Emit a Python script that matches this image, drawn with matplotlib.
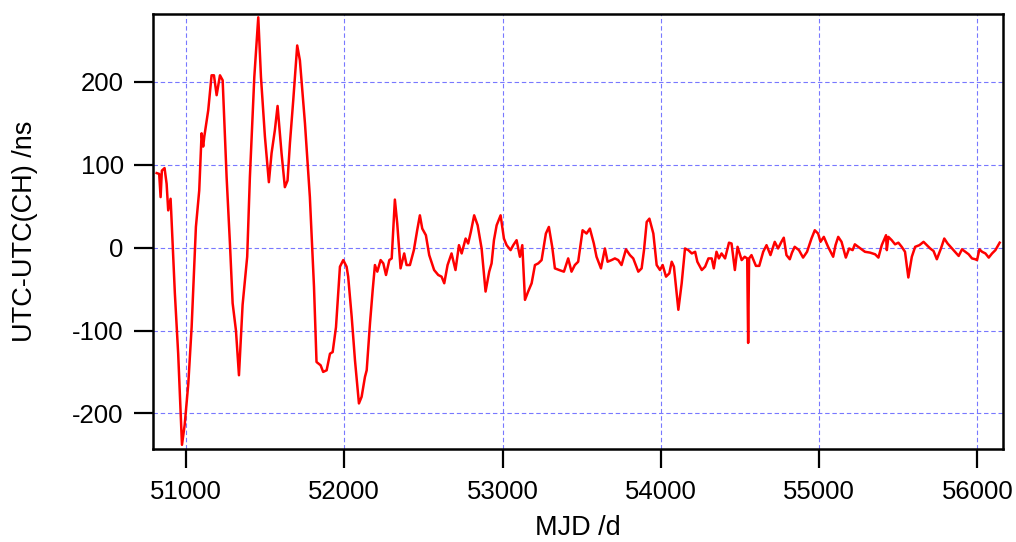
import matplotlib
matplotlib.use("Agg")
import matplotlib.pyplot as plt

plt.rcParams['font.family'] = ['Liberation Sans', 'DejaVu Sans']
plt.rcParams['axes.unicode_minus'] = False

# MJD (days) and UTC-UTC(CH) (ns)
mjd = [50815, 50831, 50840, 50848, 50865, 50878, 50888, 50903, 50907, 50930,
       50951, 50975, 50992, 51015, 51036, 51063, 51084, 51099, 51109, 51116,
       51141, 51162, 51177, 51194, 51215, 51232, 51257, 51278, 51295, 51316,
       51335, 51358, 51387, 51404, 51432, 51457, 51474, 51499, 51524, 51541,
       51562, 51579, 51604, 51625, 51642, 51657, 51678, 51703, 51720, 51752,
       51783, 51809, 51825, 51851, 51867, 51889, 51910, 51927, 51948, 51973,
       51994, 52015, 52025, 52047, 52068, 52093, 52110, 52131, 52142, 52163,
       52180, 52194, 52209, 52230, 52247, 52264, 52285, 52300, 52320, 52335,
       52356, 52379, 52394, 52415, 52440, 52461, 52478, 52493, 52516, 52537,
       52568, 52594, 52615, 52632, 52653, 52678, 52703, 52725, 52742, 52767,
       52783, 52800, 52821, 52843, 52868, 52893, 52916, 52931, 52946, 52963,
       52988, 53009, 53026, 53051, 53068, 53089, 53110, 53125, 53142, 53162,
       53184, 53205, 53226, 53247, 53274, 53293, 53314, 53331, 53358, 53388,
       53415, 53436, 53457, 53478, 53506, 53531, 53552, 53577, 53594, 53622,
       53647, 53664, 53689, 53710, 53731, 53752, 53780, 53805, 53826, 53858,
       53879, 53894, 53911, 53928, 53953, 53974, 53995, 54012, 54033, 54054,
       54069, 54083, 54111, 54132, 54153, 54174, 54196, 54217, 54231, 54259,
       54280, 54301, 54322, 54335, 54352, 54367, 54384, 54406, 54431, 54447,
       54468, 54485, 54511, 54530, 54546, 54552, 54558, 54573, 54601, 54622,
       54647, 54668, 54693, 54720, 54741, 54762, 54777, 54794, 54815, 54829,
       54846, 54873, 54899, 54924, 54952, 54973, 54994, 55009, 55030, 55057,
       55089, 55104, 55121, 55142, 55169, 55190, 55212, 55226, 55247, 55269,
       55290, 55322, 55354, 55375, 55396, 55423, 55428, 55438, 55459, 55480,
       55501, 55522, 55543, 55564, 55586, 55607, 55634, 55660, 55681, 55702,
       55723, 55744, 55770, 55791, 55812, 55840, 55854, 55882, 55903, 55924,
       55945, 55966, 55987, 55998, 56013, 56030, 56051, 56072, 56093, 56114,
       56141]
offset = [90, 89, 61, 93, 96, 77, 45, 59, 43, -55,
          -128, -238, -214, -164, -96, 25, 69, 138, 122, 134,
          166, 208, 208, 184, 208, 202, 85, 5, -67, -100,
          -154, -69, -11, 85, 206, 278, 206, 134, 79, 114,
          142, 171, 114, 73, 81, 126, 178, 244, 226, 150,
          61, -47, -138, -142, -150, -148, -128, -126, -96, -23,
          -15, -23, -35, -83, -136, -188, -180, -156, -148, -91,
          -51, -21, -29, -15, -19, -33, -15, -13, 58, 29,
          -25, -7, -21, -21, -3, 21, 39, 23, 15, -9,
          -27, -33, -35, -43, -21, -7, -27, 3, -7, 11,
          5, 19, 39, 27, -1, -53, -29, -19, 9, 27,
          39, 11, 3, -3, 3, 9, -11, 3, -63, -53,
          -43, -21, -19, -15, 17, 25, 1, -25, -27, -29,
          -13, -29, -21, -17, 21, 17, 23, 5, -11, -25,
          -1, -17, -15, -13, -15, -21, -2, -9, -13, -29,
          -25, -3, 31, 35, 17, -21, -27, -21, -35, -31,
          -17, -23, -75, -43, -1, -3, -7, -5, -17, -27,
          -23, -13, -13, -25, -5, -13, -7, -13, 6, 5,
          -27, 1, -15, -11, -13, -115, -13, -9, -22, -22,
          -5, 3, -9, 7, -1, 7, 12, -9, -14, -6,
          1, -3, -12, -5, 11, 21, 17, 7, 13, 1,
          -11, 3, 13, 7, -12, -1, -3, 4, 1, -2,
          -5, -6, -8, -12, 3, 15, -3, 13, 9, 4,
          6, 1, -5, -36, -11, 1, 3, 7, 3, -1,
          -4, -14, -1, 11, 5, -1, -4, -10, -2, -5,
          -8, -13, -14, -15, -2, -5, -7, -12, -7, -3,
          6]

fig = plt.figure(figsize=(10.16, 5.42), dpi=100)
ax = fig.add_axes([0.1506, 0.1716, 0.8366, 0.8026])

ax.plot(mjd, offset, color='#ff0000', lw=1.8, zorder=3)

ax.set_xlim(50792, 56162)
ax.set_ylim(-243, 282)
ax.set_xticks([51000, 52000, 53000, 54000, 55000, 56000])
ax.set_yticks([-200, -100, 0, 100, 200])

ax.grid(True, color='#7878ff', lw=0.8, ls=(0, (4, 2.5)), zorder=0)

for s in ax.spines.values():
    s.set_linewidth(1.8)
    s.set_color('black')

ax.tick_params(direction='out', length=14, width=1.6, labelsize=18.5,
               pad=7, top=False, right=False)
ax.tick_params(axis='x', pad=8.5)

ax.set_xlabel('MJD /d', fontsize=19.5)
ax.set_ylabel('UTC-UTC(CH) /ns', fontsize=19.5)
ax.xaxis.set_label_coords(0.5, -0.1517)
ax.yaxis.set_label_coords(-0.135, 0.5)

fig.savefig('out.png', dpi=100)
